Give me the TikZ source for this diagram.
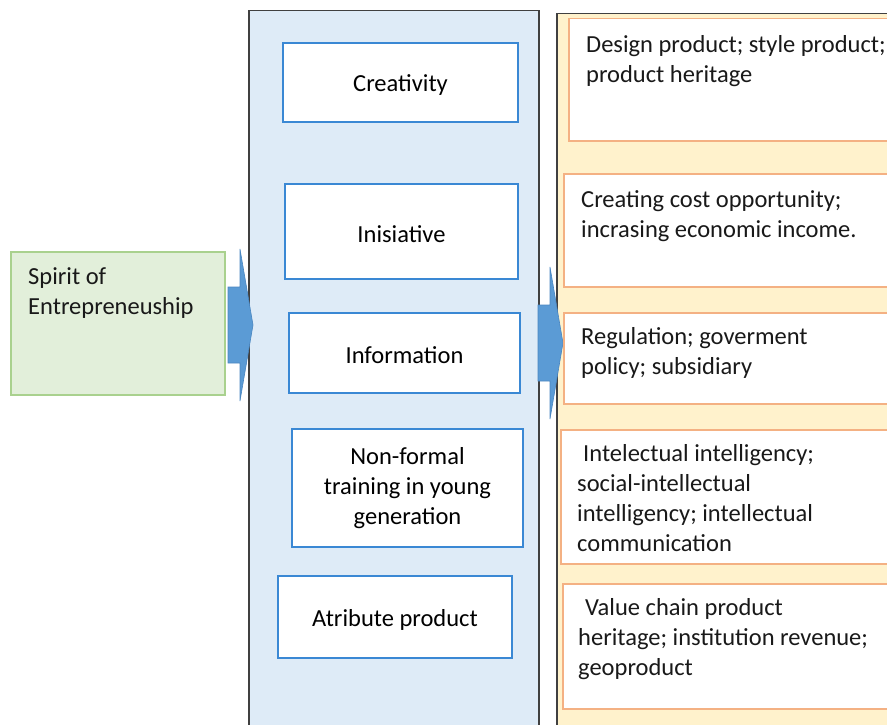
\documentclass[tikz,border=0pt]{standalone}
\usepackage{fontspec}
\setmainfont{Carlito}
\usetikzlibrary{positioning,calc}
\definecolor{panelblue}{HTML}{DEEBF7}
\definecolor{panelyellow}{HTML}{FFF2CC}
\definecolor{boxblue}{HTML}{3A88D4}
\definecolor{boxorange}{HTML}{F4B183}
\definecolor{spiritfill}{HTML}{E2EFDA}
\definecolor{spiritedge}{HTML}{A9D18E}
\definecolor{arrowblue}{HTML}{5B9BD5}
\definecolor{arrowedge}{HTML}{4A86C0}
\tikzset{
  panel/.style={draw=black!75, line width=1.5pt, anchor=north west, minimum height=740},
  midbox/.style={draw=boxblue, line width=1.5pt, fill=white, align=center, inner sep=0pt,
    execute at begin node={\rule{0pt}{22pt}}},
  rbox/.style={draw=boxorange, line width=1.5pt, fill=white, anchor=north west, inner sep=0pt},
  rtext/.style={anchor=north west, align=left, inner sep=0pt, text=black!90},
  blockarrow/.style={fill=arrowblue, draw=arrowedge, line width=0.6pt}
}
\newcommand\blockarrow[1]{\path[blockarrow] (#1) ++(0,-38) -- ++(12,0) -- ++(0,-38) -- ++(13,76) -- ++(-13,76) -- ++(0,-38) -- ++(-12,0) -- cycle;}
\begin{document}
\begin{tikzpicture}[x=1pt,y=-1pt,font=\fontsize{24.5}{30}\selectfont]
\useasboundingbox (0,0) rectangle (887,725);
\clip (0,0) rectangle (887,725);
\node[panel, fill=panelblue, minimum width=290] (mid) at (248,10) {};
\node[panel, fill=panelyellow, minimum width=350] (right) at (556,13) {};
\node[draw=spiritedge, line width=1.5pt, fill=spiritfill, anchor=north west, minimum width=214, minimum height=143] (spirit) at (10,251) {};
\node[rtext] (spiritT) at ([shift={(18,16)}]spirit.north west) {Spirit of\\Entrepreneuship};
\coordinate (arrowA) at (228,325);
\coordinate (arrowB) at (538,343);
\blockarrow{arrowA}
\blockarrow{arrowB}
\node[midbox, minimum width=235, minimum height=79] (creat) at (400.5,82.5) {Creativity};
\node[midbox, minimum width=233, minimum height=95] (inis) at (401.5,231.5) {Inisiative};
\node[midbox, minimum width=231, minimum height=80] (info) at (404.5,353) {Information};
\node[midbox, minimum width=231, minimum height=118] (nonf) at (407.5,488) {Non-formal\\training in young\\generation};
\node[midbox, minimum width=234, minimum height=82] (attr) at (395,617) {Atribute product};
\node[rbox, minimum width=332, minimum height=122] (design) at (568,18) {};
\node[rbox, minimum width=337, minimum height=113] (cost) at (563,173) {};
\node[rbox, minimum width=337, minimum height=91] (regul) at (563,312) {};
\node[rbox, minimum width=340, minimum height=134] (intel) at (560,429) {};
\node[rbox, minimum width=338, minimum height=125] (value) at (562,583) {};
\node[rtext] (designT) at ([shift={(18,17)}]design.north west) {Design product; style product;\\product heritage};
\node[rtext] (costT) at ([shift={(18,17)}]cost.north west) {Creating cost opportunity;\\incrasing economic income.};
\node[rtext] (regulT) at ([shift={(18,15)}]regul.north west) {Regulation; goverment\\policy; subsidiary};
\node[rtext] (intelT) at ([shift={(17,15)}]intel.north west) {\hspace{6pt}Intelectual intelligency;\\social-intellectual\\intelligency; intellectual\\communication};
\node[rtext] (valueT) at ([shift={(16,15)}]value.north west) {\hspace{7pt}Value chain product\\heritage; institution revenue;\\geoproduct};
\end{tikzpicture}
\end{document}
